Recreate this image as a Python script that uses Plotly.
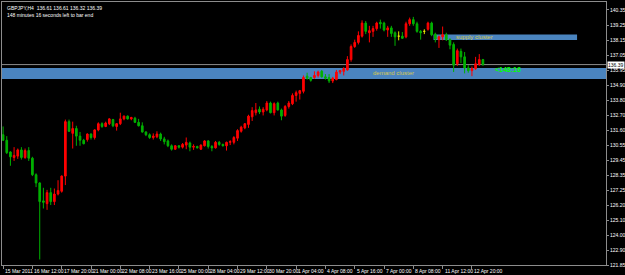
import plotly.graph_objects as go

# ---------------- data ----------------
open_ = [131.30, 130.90, 130.05, 129.65, 129.75, 130.20, 129.65, 130.15, 129.60, 128.40,
         127.80, 126.50, 126.30, 127.10, 126.45, 127.00, 127.20, 128.30, 132.25, 131.40,
         131.75, 131.20, 130.90, 130.95, 131.35, 131.10, 131.65, 132.10, 131.90, 132.10,
         132.40, 131.90, 132.10, 132.45, 132.65, 132.45, 132.50, 132.20, 131.95, 131.50,
         131.30, 131.10, 131.15, 131.35, 131.00, 130.85, 130.50, 130.25, 130.50, 130.40,
         130.55, 130.70, 130.40, 130.45, 130.25, 130.50, 130.85, 130.45, 130.35, 130.75,
         130.60, 130.50, 130.75, 130.75, 131.05, 131.55, 131.80, 132.05, 132.60, 132.90,
         133.15, 132.95, 133.10, 133.60, 132.90, 133.60, 133.10, 132.70, 133.35, 133.55,
         134.15, 134.30, 134.45, 135.55, 135.45, 135.45, 135.60, 135.90, 135.50, 135.45,
         135.20, 135.30, 135.85, 135.90, 136.00, 136.75, 137.70, 138.00, 138.45, 139.40,
         138.70, 138.80, 139.00, 139.45, 139.40, 138.90, 139.05, 138.70, 138.45, 138.45,
         138.40, 139.35, 139.65, 139.35, 138.80, 138.80, 138.95, 139.40, 138.60, 138.20,
         138.40, 138.55, 138.20, 137.85, 136.45, 137.35, 136.95, 136.15, 135.95, 136.10,
         136.40, 136.75]
high = [131.90, 131.20, 130.10, 130.40, 130.30, 130.40, 130.30, 130.40, 129.70, 128.50,
        127.85, 127.45, 127.30, 127.45, 127.40, 128.00, 128.35, 132.40, 132.40, 132.25,
        131.95, 131.50, 131.00, 131.40, 131.40, 131.70, 132.20, 132.20, 132.25, 132.50,
        132.45, 132.15, 132.90, 132.70, 132.70, 132.60, 132.60, 132.45, 132.20, 131.55,
        131.40, 131.40, 131.55, 131.45, 131.15, 130.95, 130.60, 130.55, 130.55, 130.70,
        131.10, 130.80, 130.60, 130.50, 130.60, 130.90, 130.90, 130.55, 130.85, 130.85,
        130.65, 130.80, 130.90, 131.20, 131.70, 131.95, 132.15, 132.75, 133.30, 133.60,
        133.35, 133.30, 133.75, 133.70, 133.65, 133.70, 133.20, 133.45, 133.75, 134.30,
        134.50, 134.55, 135.60, 135.80, 135.50, 135.90, 135.95, 136.00, 135.70, 135.70,
        135.50, 136.00, 136.00, 136.20, 137.00, 137.85, 138.20, 138.80, 139.60, 139.55,
        139.20, 139.20, 139.50, 139.65, 139.50, 139.20, 139.20, 138.80, 138.80, 138.75,
        139.50, 139.80, 139.85, 139.50, 138.90, 138.95, 139.50, 139.50, 138.70, 138.50,
        139.15, 138.70, 138.30, 138.00, 137.55, 137.55, 137.30, 136.35, 136.25, 136.95,
        137.15, 136.80]
low = [130.85, 129.90, 129.05, 129.40, 129.55, 129.50, 129.55, 129.40, 128.30, 127.50,
       122.25, 125.95, 125.85, 126.20, 126.20, 126.90, 127.10, 127.65, 131.50, 130.30,
       130.50, 130.50, 130.60, 130.80, 130.95, 130.95, 131.55, 131.80, 131.85, 132.00,
       131.85, 131.60, 132.00, 132.35, 132.40, 132.35, 132.15, 131.90, 131.45, 131.20,
       131.00, 130.95, 131.05, 130.85, 130.60, 130.40, 130.15, 130.20, 130.30, 130.30,
       130.25, 130.10, 130.20, 130.30, 130.20, 130.45, 130.30, 130.10, 130.30, 130.50,
       130.45, 130.15, 130.55, 130.60, 130.85, 131.45, 131.70, 131.80, 132.30, 132.70,
       132.80, 132.70, 133.00, 132.85, 132.70, 133.05, 132.35, 132.60, 133.20, 133.45,
       133.70, 133.85, 134.30, 135.30, 135.15, 135.35, 135.45, 135.45, 135.30, 135.05,
       135.05, 135.25, 135.70, 135.60, 135.95, 136.60, 137.60, 137.85, 138.35, 138.60,
       138.00, 138.40, 138.85, 139.00, 138.80, 138.40, 138.40, 137.75, 138.15, 138.25,
       138.30, 139.20, 139.20, 138.70, 138.20, 138.60, 138.85, 138.45, 138.00, 137.60,
       138.15, 138.10, 137.50, 135.85, 136.30, 136.50, 135.75, 135.80, 135.55, 136.00,
       136.30, 136.30]
close = [130.90, 130.00, 129.70, 129.80, 130.20, 129.65, 130.15, 129.60, 128.40, 127.80,
         126.45, 126.40, 127.10, 126.45, 127.00, 127.25, 128.30, 132.25, 131.55, 131.75,
         131.20, 130.90, 130.65, 131.35, 131.10, 131.65, 132.10, 131.90, 132.15, 132.45,
         131.95, 132.10, 132.45, 132.65, 132.45, 132.55, 132.20, 131.95, 131.50, 131.30,
         131.10, 131.20, 131.35, 131.00, 130.80, 130.50, 130.25, 130.50, 130.40, 130.60,
         130.75, 130.40, 130.45, 130.35, 130.55, 130.85, 130.45, 130.35, 130.75, 130.60,
         130.50, 130.75, 130.80, 131.10, 131.60, 131.85, 132.10, 132.65, 133.05, 133.10,
         132.95, 133.15, 133.60, 132.90, 133.55, 133.10, 132.65, 133.35, 133.60, 134.15,
         134.35, 134.50, 135.45, 135.40, 135.25, 135.60, 135.85, 135.50, 135.40, 135.20,
         135.40, 135.85, 135.95, 136.10, 136.75, 137.70, 138.00, 138.50, 139.40, 138.80,
         138.85, 139.00, 139.40, 139.35, 138.90, 139.05, 138.65, 138.40, 138.45, 138.30,
         139.35, 139.65, 139.35, 138.80, 138.70, 138.80, 139.40, 138.55, 138.25, 138.40,
         138.55, 138.20, 137.80, 136.35, 137.40, 136.95, 136.15, 135.95, 136.10, 136.45,
         136.75, 136.39]

bar_index = list(range(len(open_)))

tick_index = [0, 8, 16, 24, 32, 40, 48, 56, 64, 72, 80, 88, 96, 104, 112, 120, 128]
tick_text = ["15 Mar 2011", "16 Mar 12:00", "17 Mar 20:00", "21 Mar 00:00", "22 Mar 08:00",
             "23 Mar 16:00", "25 Mar 00:00", "28 Mar 04:00", "29 Mar 12:00", "30 Mar 20:00",
             "1 Apr 04:00", "4 Apr 08:00", "5 Apr 16:00", "7 Apr 00:00", "8 Apr 08:00",
             "11 Apr 12:00", "12 Apr 20:00"]

price_ticks = [140.35, 139.25, 138.15, 137.05, 135.95, 134.90, 133.80, 132.70, 131.60,
               130.55, 129.45, 128.35, 127.25, 126.20, 125.10, 124.00, 122.90, 121.85]

current_price = 136.39
demand_zone = [135.35, 136.15]
supply_zone = [138.17, 138.58]
supply_span = [117.5, 156.7]

title_text = "GBPJPY,H4  136.61 136.61 136.32 136.39"
timer_text = "148 minutes 16 seconds left to bar end"
timer_label = "<148:16"

# ---------------- figure ----------------
GRAY = "#8c8c8c"
FONT = "Liberation Sans Narrow, Liberation Sans, Arial"
SMALL = 5

def subset(cond):
    idx = [i for i in bar_index if cond(i)]
    return (idx, [open_[i] for i in idx], [high[i] for i in idx],
            [low[i] for i in idx], [close[i] for i in idx])

fig = go.Figure()

for cond, col in [(lambda i: close[i] > open_[i], "#ff0000"),
                  (lambda i: close[i] < open_[i], "#00b000"),
                  (lambda i: close[i] == open_[i], "#e6e600")]:
    xs, o, h, l, c = subset(cond)
    fig.add_trace(go.Candlestick(
        x=xs, open=o, high=h, low=l, close=c,
        increasing=dict(line=dict(color=col, width=1), fillcolor=col),
        decreasing=dict(line=dict(color=col, width=1), fillcolor=col),
        whiskerwidth=0, hoverinfo="skip", showlegend=False))

shapes = [
    dict(type="rect", xref="paper", yref="y", x0=0, x1=1,
         y0=demand_zone[0], y1=demand_zone[1], fillcolor="#4a84bf",
         line=dict(width=0), layer="below"),
    dict(type="rect", xref="x", yref="y", x0=supply_span[0], x1=supply_span[1],
         y0=supply_zone[0], y1=supply_zone[1], fillcolor="#4a84bf",
         line=dict(width=0), layer="below"),
    dict(type="line", xref="paper", yref="y", x0=0, x1=1,
         y0=current_price, y1=current_price, line=dict(color=GRAY, width=1), layer="below"),
]

annotations = []
for ti, tt in zip(tick_index, tick_text):
    annotations.append(dict(x=ti, y=0, xref="x", yref="paper", text=tt, showarrow=False,
                            xanchor="left", yanchor="top", xshift=0, yshift=-1,
                            font=dict(size=SMALL, color="white", family=FONT)))
annotations += [
    dict(x=0, y=1, xref="paper", yref="paper", xanchor="left", yanchor="top",
         xshift=3, yshift=-1, showarrow=False, align="left",
         text=title_text + "<br>" + timer_text,
         font=dict(size=SMALL, color="white", family=FONT)),
    dict(x=1, y=current_price, xref="paper", yref="y", xanchor="left", yanchor="middle",
         xshift=1, showarrow=False, text=f"{current_price:.2f}", bgcolor="white",
         borderpad=0, font=dict(size=SMALL, color="black", family=FONT)),
    dict(x=123.0, y=sum(supply_zone) / 2, xref="x", yref="y", xanchor="left",
         yanchor="middle", showarrow=False, text="supply cluster",
         font=dict(size=6, color="#d8c850", family=FONT)),
    dict(x=100.4, y=sum(demand_zone) / 2, xref="x", yref="y", xanchor="left",
         yanchor="middle", showarrow=False, text="demand cluster",
         font=dict(size=6, color="#d8c850", family=FONT)),
    dict(x=133.8, y=136.05, xref="x", yref="y", xanchor="left", yanchor="middle",
         showarrow=False, text="<b>" + timer_label.replace("<", "&lt;") + "</b>",
         font=dict(size=7, color="#00ff00", family=FONT)),
]

fig.update_layout(
    width=625, height=275,
    margin=dict(l=2, r=19, t=2, b=10, autoexpand=False),
    paper_bgcolor="black", plot_bgcolor="black",
    shapes=shapes, annotations=annotations,
    showlegend=False, hovermode=False, boxgap=0.35,
    xaxis=dict(range=[-0.3, 164.6], rangeslider=dict(visible=False),
               tickvals=tick_index, showticklabels=False, ticks="outside",
               ticklen=3, tickcolor=GRAY, showgrid=False, zeroline=False,
               showline=True, linecolor=GRAY, linewidth=1, mirror=True),
    yaxis=dict(range=[121.85, 140.93], side="right", tickvals=price_ticks,
               ticktext=[f"{v:.2f}" for v in price_ticks], ticks="outside",
               ticklen=2, tickcolor=GRAY,
               tickfont=dict(size=SMALL, color="white", family=FONT),
               showgrid=False, zeroline=False, showline=True, linecolor=GRAY,
               linewidth=1, mirror=True, automargin=False),
)

fig.write_html("out.html")
